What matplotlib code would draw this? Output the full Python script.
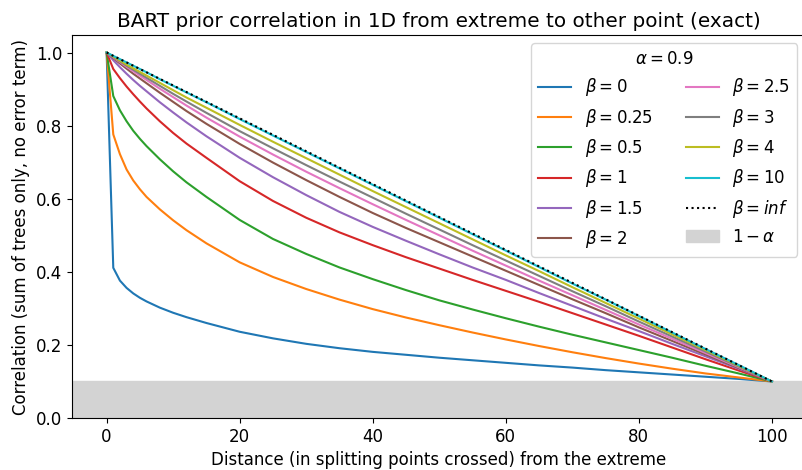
import numpy as np
import matplotlib
matplotlib.use('Agg')
import matplotlib.pyplot as plt

matplotlib.rcParams['font.size'] = 12

alpha = 0.9
betas = ['0', '0.25', '0.5', '1', '1.5', '2', '2.5', '3', '4', '10']

# distance from the extreme (splitting points crossed)
x_pts = [0, 1, 2, 3, 4, 5, 6, 8, 10, 12, 15, 20, 25, 30, 35, 40, 45, 50, 55, 60, 65, 70, 75, 80, 85, 90, 95, 100]

# correlation, one list per beta
corr_b0 = [1.0, 0.411, 0.376, 0.356, 0.341, 0.329, 0.319, 0.302, 0.288, 0.276, 0.26, 0.236, 0.218, 0.203,
           0.191, 0.181, 0.173, 0.165, 0.158, 0.151, 0.144, 0.138, 0.131, 0.125, 0.119, 0.113, 0.107, 0.1]
corr_b025 = [1.0, 0.776, 0.722, 0.68, 0.65, 0.626, 0.605, 0.571, 0.541, 0.514, 0.478, 0.426, 0.386, 0.353,
             0.324, 0.298, 0.275, 0.254, 0.234, 0.215, 0.197, 0.18, 0.164, 0.149, 0.135, 0.122, 0.111, 0.1]
corr_b05 = [1.0, 0.881, 0.842, 0.812, 0.786, 0.764, 0.744, 0.708, 0.675, 0.645, 0.605, 0.542, 0.49, 0.449,
            0.412, 0.38, 0.35, 0.322, 0.297, 0.273, 0.25, 0.228, 0.207, 0.186, 0.165, 0.143, 0.122, 0.1]
corr_b1 = [1.0, 0.955, 0.93, 0.907, 0.886, 0.866, 0.847, 0.812, 0.78, 0.751, 0.712, 0.648, 0.594, 0.548,
           0.508, 0.473, 0.44, 0.409, 0.378, 0.348, 0.318, 0.287, 0.256, 0.225, 0.193, 0.161, 0.13, 0.1]
corr_b15 = [1.0, 0.979, 0.96, 0.942, 0.925, 0.909, 0.894, 0.864, 0.836, 0.809, 0.771, 0.712, 0.659, 0.61,
            0.564, 0.523, 0.485, 0.448, 0.412, 0.378, 0.342, 0.307, 0.272, 0.238, 0.203, 0.169, 0.135, 0.1]
corr_b2 = [1.0, 0.985, 0.97, 0.956, 0.942, 0.929, 0.916, 0.89, 0.865, 0.84, 0.805, 0.75, 0.699, 0.651,
           0.605, 0.561, 0.52, 0.481, 0.442, 0.403, 0.364, 0.325, 0.287, 0.248, 0.211, 0.174, 0.137, 0.1]
corr_b25 = [1.0, 0.987, 0.974, 0.961, 0.949, 0.937, 0.925, 0.901, 0.878, 0.855, 0.822, 0.77, 0.721, 0.674,
            0.629, 0.585, 0.542, 0.5, 0.458, 0.417, 0.376, 0.336, 0.296, 0.256, 0.217, 0.178, 0.139, 0.1]
corr_b3 = [1.0, 0.988, 0.976, 0.964, 0.953, 0.942, 0.931, 0.909, 0.887, 0.866, 0.835, 0.785, 0.738, 0.692,
           0.647, 0.603, 0.559, 0.516, 0.473, 0.431, 0.389, 0.347, 0.306, 0.264, 0.223, 0.182, 0.141, 0.1]
corr_b4 = [1.0, 0.989, 0.978, 0.967, 0.957, 0.947, 0.937, 0.917, 0.897, 0.877, 0.849, 0.802, 0.756, 0.711,
           0.666, 0.621, 0.577, 0.533, 0.489, 0.445, 0.402, 0.358, 0.315, 0.272, 0.229, 0.186, 0.143, 0.1]
corr_b10 = [1.0, 0.991, 0.982, 0.973, 0.964, 0.955, 0.946, 0.927, 0.909, 0.891, 0.864, 0.818, 0.773, 0.728,
            0.683, 0.638, 0.593, 0.548, 0.503, 0.458, 0.413, 0.368, 0.324, 0.279, 0.234, 0.189, 0.145, 0.1]
all_corr = [corr_b0, corr_b025, corr_b05, corr_b1, corr_b15, corr_b2, corr_b25, corr_b3, corr_b4, corr_b10]

# beta = inf is a straight line between the two ends
x_inf = [0, 100]
corr_inf = [1.0, 0.1]


fig = plt.figure(figsize=(8.03, 4.70), dpi=100)
ax = fig.add_axes([0.0897, 0.1106, 0.913, 0.8149])

for b, c in zip(betas, all_corr):
    ax.plot(x_pts, c, label='$\\beta={}$'.format(b))
ax.plot(x_inf, corr_inf, color='black', linestyle=':', label='$\\beta=inf$')
ax.axhspan(0, 1 - alpha, color='lightgray', label='$1-\\alpha$')

ax.set_xlim(-5.2, 105)
ax.set_ylim(0, 1.048)
ax.set_title('BART prior correlation in 1D from extreme to other point (exact)')
ax.set_xlabel('Distance (in splitting points crossed) from the extreme')
ax.set_ylabel('Correlation (sum of trees only, no error term)')
ax.legend(title='$\\alpha={}$'.format(alpha), ncol=2, loc='upper right')

fig.savefig('out.png', dpi=100)
